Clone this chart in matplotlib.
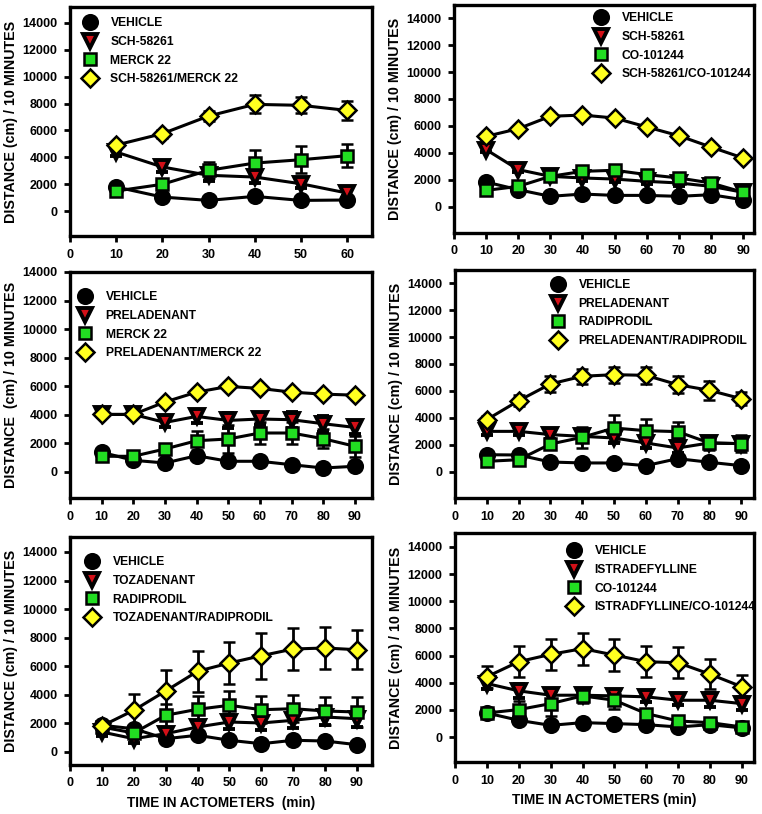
import matplotlib
matplotlib.use("Agg")
import matplotlib.pyplot as plt
from matplotlib.lines import Line2D

plt.rcParams['font.family'] = ['Liberation Sans', 'DejaVu Sans']
plt.rcParams['font.weight'] = 'bold'
plt.rcParams['font.size'] = 9

# ---- data ----
x60 = [10, 20, 30, 40, 50, 60]
x90 = [10, 20, 30, 40, 50, 60, 70, 80, 90]

# panel 1: SCH-58261 / MERCK 22
veh1 = [1790, 1040, 790, 1090, 790, 820]
veh1_err = [150, 150, 150, 150, 150, 150]
sch1 = [4390, 3280, 2660, 2530, 2030, 1340]
sch1_err = [300, 350, 400, 450, 300, 250]
mk1 = [1490, 1990, 3030, 3570, 3820, 4120]
mk1_err = [200, 300, 600, 950, 1000, 850]
combo1 = [4910, 5760, 7070, 7940, 7870, 7490]
combo1_err = [250, 300, 350, 670, 600, 700]

# panel 2: SCH-58261 / CO-101244
veh2 = [1850, 1280, 790, 960, 860, 860, 790, 910, 540]
veh2_err = [200] * 9
sch2 = [4250, 2770, 2270, 2150, 2070, 1900, 1780, 1530, 1090]
sch2_err = [200] * 9
co2 = [1230, 1530, 2270, 2640, 2720, 2400, 2150, 1780, 1090]
co2_err = [200] * 9
combo2 = [5230, 5800, 6720, 6810, 6590, 5930, 5280, 4440, 3630]
combo2_err = [200] * 9

# panel 3: PRELADENANT / MERCK 22
veh3 = [1380, 820, 630, 1140, 750, 750, 510, 280, 400]
veh3_err = [150, 150, 150, 200, 150, 150, 150, 150, 200]
prel3 = [4030, 4030, 3470, 3890, 3610, 3710, 3660, 3380, 3120]
prel3_err = [200, 200, 350, 450, 550, 400, 550, 550, 450]
mk3 = [1100, 1100, 1610, 2190, 2310, 2730, 2730, 2330, 1800]
mk3_err = [150, 150, 300, 650, 950, 750, 750, 650, 750]
combo3 = [4030, 4030, 4900, 5590, 5990, 5850, 5590, 5450, 5380]
combo3_err = [200] * 9

# panel 4: PRELADENANT / RADIPRODIL
veh4 = [1280, 1260, 740, 670, 670, 470, 990, 720, 470]
veh4_err = [150] * 9
prel4 = [3010, 3010, 2770, 2640, 2520, 2150, 1780, 2150, 2100]
prel4_err = [300, 250, 300, 350, 400, 400, 350, 400, 450]
rad4 = [790, 910, 2070, 2570, 3260, 3060, 2990, 2150, 2100]
rad4_err = [200, 200, 400, 800, 950, 850, 700, 550, 650]
combo4 = [3880, 5280, 6520, 7090, 7210, 7160, 6470, 6050, 5430]
combo4_err = [300, 400, 600, 550, 600, 650, 650, 700, 500]

# panel 5: TOZADENANT / RADIPRODIL
veh5 = [1870, 1630, 930, 1170, 820, 580, 820, 770, 510]
veh5_err = [150] * 9
toz5 = [1400, 930, 1280, 1750, 2100, 2030, 2220, 2450, 2330]
toz5_err = [300, 300, 300, 400, 500, 500, 550, 550, 600]
rad5 = [1750, 1330, 2570, 2990, 3270, 2960, 3030, 2870, 2800]
rad5_err = [200, 300, 800, 930, 980, 950, 950, 980, 1050]
combo5 = [1820, 2920, 4270, 5650, 6230, 6740, 7210, 7280, 7160]
combo5_err = [250, 1150, 1500, 1450, 1450, 1600, 1500, 1450, 1350]

# panel 6: ISTRADEFYLLINE / CO-101244
veh6 = [1770, 1230, 860, 1060, 990, 910, 740, 910, 670]
veh6_err = [150] * 9
ist6 = [3940, 3400, 3080, 3080, 3030, 2960, 2710, 2710, 2460]
ist6_err = [400, 500, 450, 450, 400, 400, 350, 500, 500]
co6 = [1770, 2020, 2460, 3030, 2710, 1730, 1180, 1060, 740]
co6_err = [200, 600, 900, 500, 650, 300, 200, 200, 200]
combo6 = [4440, 5550, 6090, 6510, 6040, 5550, 5470, 4630, 3700]
combo6_err = [800, 1150, 1160, 1180, 1150, 1150, 1130, 1100, 860]

labels1 = ['VEHICLE', 'SCH-58261', 'MERCK 22', 'SCH-58261/MERCK 22']
labels2 = ['VEHICLE', 'SCH-58261', 'CO-101244', 'SCH-58261/CO-101244']
labels3 = ['VEHICLE', 'PRELADENANT', 'MERCK 22', 'PRELADENANT/MERCK 22']
labels4 = ['VEHICLE', 'PRELADENANT', 'RADIPRODIL', 'PRELADENANT/RADIPRODIL']
labels5 = ['VEHICLE', 'TOZADENANT', 'RADIPRODIL', 'TOZADENANT/RADIPRODIL']
labels6 = ['VEHICLE', 'ISTRADEFYLLINE', 'CO-101244', 'ISTRADFYLLINE/CO-101244']

yticks = [0, 2000, 4000, 6000, 8000, 10000, 12000, 14000]

# marker style per series: vehicle, A2A antagonist, NR2B antagonist, combo
styles = [
    dict(marker='o', markerfacecolor='black', markersize=10.5, markeredgewidth=1.8),
    dict(marker='v', markerfacecolor='#d41018', markersize=10, markeredgewidth=2.8),
    dict(marker='s', markerfacecolor='#22dd22', markersize=9, markeredgewidth=1.8),
    dict(marker='D', markerfacecolor='#ffff20', markersize=9, markeredgewidth=1.8),
]

W, H = 762, 814
fig = plt.figure(figsize=(W / 100, H / 100), dpi=100)

panels = [
    # pixel box (l, t, r, b), xlim, ylim, x, series, labels, ylabel, xlabel, legend anchor
    ((70, 7, 372, 236), 65.4, (-1860, 15190), x60,
     [(veh1, veh1_err), (sch1, sch1_err), (mk1, mk1_err), (combo1, combo1_err)],
     labels1, 'DISTANCE (cm) / 10 MINUTES', None, (0.046, 0.955)),
    ((454, 5, 754, 233), 93.4, (-1926, 14963), x90,
     [(veh2, veh2_err), (sch2, sch2_err), (co2, co2_err), (combo2, combo2_err)],
     labels2, 'DISTANCE (cm) / 10 MINUTES', None, (0.47, 0.968)),
    ((70, 272, 372, 498), 95.4, (-1820, 14000), x90,
     [(veh3, veh3_err), (prel3, prel3_err), (mk3, mk3_err), (combo3, combo3_err)],
     labels3, 'DISTANCE  (cm) / 10 MINUTES', None, (0.030, 0.915)),
    ((455, 270, 754, 498), 94.0, (-1926, 14963), x90,
     [(veh4, veh4_err), (prel4, prel4_err), (rad4, rad4_err), (combo4, combo4_err)],
     labels4, 'DISTANCE (cm) / 10 MINUTES', None, (0.324, 0.96)),
    ((70, 537, 372, 765), 94.7, (-910, 15050), x90,
     [(veh5, veh5_err), (toz5, toz5_err), (rad5, rad5_err), (combo5, combo5_err)],
     labels5, 'DISTANCE (cm) / 10 MINUTES', 'TIME IN ACTOMETERS  (min)', (0.053, 0.915)),
    ((455, 533, 754, 762), 93.8, (-1840, 15030), x90,
     [(veh6, veh6_err), (ist6, ist6_err), (co6, co6_err), (combo6, combo6_err)],
     labels6, 'DISTANCE (cm) / 10 MINUTES', 'TIME IN ACTOMETERS (min)', (0.378, 0.946)),
]

for box, xmax, ylim, xs, series, labels, ylab, xlab, anchor in panels:
    l, t, r, b = box
    ax = fig.add_axes([l / W, 1 - b / H, (r - l) / W, (b - t) / H])
    for (vals, err), st in zip(series, styles):
        ax.errorbar(xs, vals, yerr=err, color='black', linewidth=2.2,
                    elinewidth=2, capsize=4, capthick=2,
                    markeredgecolor='black', **st)
    ax.set_xlim(0, xmax)
    ax.set_ylim(*ylim)
    ax.set_xticks(range(0, xs[-1] + 1, 10))
    ax.set_yticks(yticks)
    for s in ax.spines.values():
        s.set_linewidth(2.4)
    ax.tick_params(direction='out', length=4, width=2, labelsize=9, pad=5)
    ax.set_ylabel(ylab, fontsize=10.3, fontweight='bold', labelpad=3)
    if xlab:
        ax.set_xlabel(xlab, fontsize=9.8, fontweight='bold', labelpad=5)

    handles = [Line2D([], [], linestyle='none', markeredgecolor='black', **st)
               for st in styles]
    ax.legend(handles, labels, loc='upper left', bbox_to_anchor=anchor,
              frameon=False, borderpad=0, borderaxespad=0, handlelength=1.0,
              handletextpad=1.2, labelspacing=0.55, numpoints=1,
              prop=dict(size=8.7, weight='bold'))

fig.savefig('out.png', dpi=100)
